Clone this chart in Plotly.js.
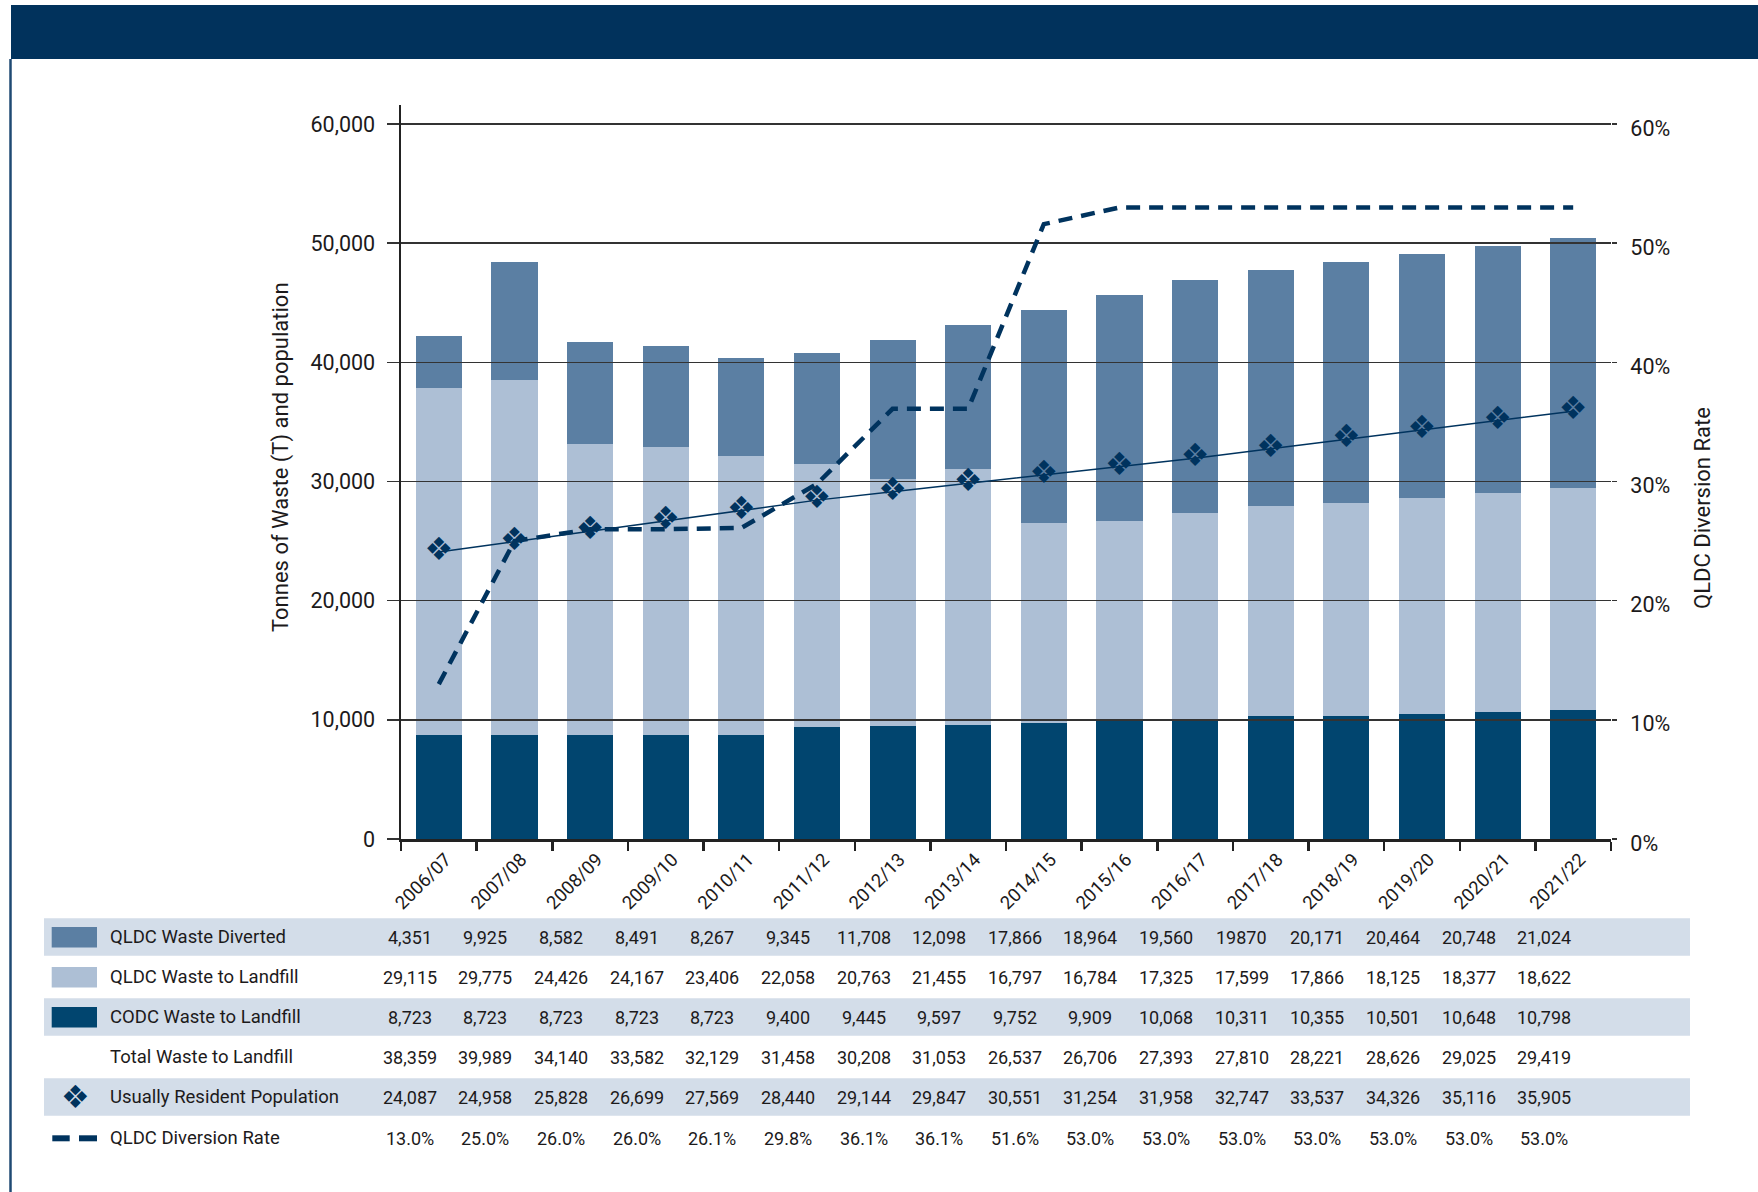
<!DOCTYPE html>
<html>
<head>
<meta charset="utf-8">
<script src="https://cdn.plot.ly/plotly-3.0.1.min.js"></script>
<style>
  html, body { margin: 0; padding: 0; background: #ffffff; }
  #chart { width: 1758px; height: 1192px; }
</style>
</head>
<body>
<div id="chart"></div>
<script>
// ---------------- DATA ----------------
const years = ['2006/07','2007/08','2008/09','2009/10','2010/11','2011/12','2012/13','2013/14',
               '2014/15','2015/16','2016/17','2017/18','2018/19','2019/20','2020/21','2021/22'];
const qldcDiverted = [4351, 9925, 8582, 8491, 8267, 9345, 11708, 12098, 17866, 18964, 19560, 19870, 20171, 20464, 20748, 21024];
const qldcLandfill = [29115, 29775, 24426, 24167, 23406, 22058, 20763, 21455, 16797, 16784, 17325, 17599, 17866, 18125, 18377, 18622];
const codcLandfill = [8723, 8723, 8723, 8723, 8723, 9400, 9445, 9597, 9752, 9909, 10068, 10311, 10355, 10501, 10648, 10798];
const totalLandfill = [38359, 39989, 34140, 33582, 32129, 31458, 30208, 31053, 26537, 26706, 27393, 27810, 28221, 28626, 29025, 29419];
const population = [24087, 24958, 25828, 26699, 27569, 28440, 29144, 29847, 30551, 31254, 31958, 32747, 33537, 34326, 35116, 35905];
const diversionRate = [13.0, 25.0, 26.0, 26.0, 26.1, 29.8, 36.1, 36.1, 51.6, 53.0, 53.0, 53.0, 53.0, 53.0, 53.0, 53.0];
const leftTicks = [0, 10000, 20000, 30000, 40000, 50000, 60000];
const rightTicks = [0, 10, 20, 30, 40, 50, 60];
const rowLabels = ['QLDC Waste Diverted','QLDC Waste to Landfill','CODC Waste to Landfill',
                   'Total Waste to Landfill','Usually Resident Population','QLDC Diversion Rate'];
const yLeftTitle = 'Tonnes of Waste (T) and population';
const yRightTitle = 'QLDC Diversion Rate';

// ---------------- STYLE ----------------
const W = 1758, H = 1192;
const M = { l: 401, r: 147, t: 105, b: 353 };
const PW = W - M.l - M.r, PH = H - M.t - M.b;
const px = X => (X - M.l) / PW;          // pixel -> paper x
const py = Y => (H - M.b - Y) / PH;      // pixel -> paper y

const FONT = 'Roboto, "Liberation Sans", sans-serif';
const TXT = '#1c1a1b';
const C_DIV = '#5b7fa3', C_LF = '#adbfd5', C_CODC = '#01456f', C_NAVY = '#00335e', C_BAND = '#d3dde9';
const GRID = '#333333';

const fmt = v => v.toLocaleString('en-US');
const pct = v => v.toFixed(1) + '%';

// table text rows built from the data
const divText = qldcDiverted.map(fmt);
divText[11] = String(qldcDiverted[11]);   // printed without separator in the source
const tableRows = [
  divText,
  qldcLandfill.map(fmt),
  codcLandfill.map(fmt),
  totalLandfill.map(fmt),
  population.map(fmt),
  diversionRate.map(pct)
];
const rowY = [937.3, 977.3, 1017.3, 1057.3, 1097.3, 1138.3];

// ---------------- TRACES ----------------
const barCommon = { type: 'bar', x: years, xaxis: 'x', yaxis: 'y', hoverinfo: 'skip' };
const traces = [
  Object.assign({}, barCommon, { y: codcLandfill, name: rowLabels[2], marker: { color: C_CODC } }),
  Object.assign({}, barCommon, { y: qldcLandfill, name: rowLabels[1], marker: { color: C_LF } }),
  Object.assign({}, barCommon, { y: qldcDiverted, name: rowLabels[0], marker: { color: C_DIV } }),
  {
    type: 'scatter', mode: 'lines', x: years, y: diversionRate, xaxis: 'x2', yaxis: 'y2',
    name: rowLabels[5], line: { color: C_NAVY, width: 4.5, dash: '14px,9px' }, hoverinfo: 'skip'
  },
  {
    type: 'scatter', mode: 'lines+text', x: years, y: population, xaxis: 'x2', yaxis: 'y3',
    name: rowLabels[4], line: { color: C_NAVY, width: 1.5 },
    text: years.map(() => '❖'), textposition: 'middle center',
    textfont: { family: 'DejaVu Sans', size: 32, color: C_NAVY }, hoverinfo: 'skip'
  }
];

// ---------------- SHAPES ----------------
const shapes = [];
// top banner
shapes.push({ type: 'rect', xref: 'paper', yref: 'paper', x0: px(11), x1: px(1758), y0: py(59), y1: py(5),
              fillcolor: '#01325c', line: { width: 0 }, layer: 'below' });
// left border
shapes.push({ type: 'line', xref: 'paper', yref: 'paper', x0: px(10.5), x1: px(10.5), y0: py(59), y1: py(1192),
              line: { color: '#1f4a73', width: 2.5 } });
// table bands
[[918.3, 955.7], [998.3, 1035.7], [1078.3, 1115.7]].forEach(b => {
  shapes.push({ type: 'rect', xref: 'paper', yref: 'paper', x0: px(44), x1: px(1690), y0: py(b[1]), y1: py(b[0]),
                fillcolor: C_BAND, line: { width: 0 }, layer: 'below' });
});
// legend swatches
[C_DIV, C_LF, C_CODC].forEach((c, i) => {
  shapes.push({ type: 'rect', xref: 'paper', yref: 'paper', x0: px(51.7), x1: px(97),
                y0: py(rowY[i] + 10.2), y1: py(rowY[i] - 10.2), fillcolor: c, line: { width: 0 } });
});
// dashed legend
[[52.3, 69.7], [79, 97]].forEach(d => {
  shapes.push({ type: 'rect', xref: 'paper', yref: 'paper', x0: px(d[0]), x1: px(d[1]),
                y0: py(rowY[5] + 3), y1: py(rowY[5] - 3), fillcolor: C_NAVY, line: { width: 0 } });
});

// ---------------- ANNOTATIONS ----------------
const annotations = [];
rowLabels.forEach((lab, r) => {
  annotations.push({ xref: 'paper', yref: 'paper', x: px(108), y: py(rowY[r]), xanchor: 'left', yanchor: 'middle',
                     text: lab, showarrow: false, font: { family: FONT, size: 18.5, color: TXT } });
  tableRows[r].forEach((t, i) => {
    annotations.push({ xref: 'x', yref: 'paper', x: years[i], xshift: -29, y: py(rowY[r]), xanchor: 'center',
                       yanchor: 'middle', text: t, showarrow: false, font: { family: FONT, size: 18, color: TXT } });
  });
});
// population legend symbol
annotations.push({ xref: 'paper', yref: 'paper', x: px(75.7), y: py(rowY[4]), xanchor: 'center', yanchor: 'middle',
                   text: '❖', showarrow: false, font: { family: 'DejaVu Sans', size: 32, color: C_NAVY } });
// axis titles
annotations.push({ xref: 'paper', yref: 'paper', x: px(281), y: py(457), xanchor: 'center', yanchor: 'middle',
                   textangle: -90, text: yLeftTitle, showarrow: false, font: { family: FONT, size: 22, color: TXT } });
annotations.push({ xref: 'paper', yref: 'paper', x: px(1702), y: py(508), xanchor: 'center', yanchor: 'middle',
                   textangle: -90, text: yRightTitle, showarrow: false, font: { family: FONT, size: 22, color: TXT } });

// ---------------- LAYOUT ----------------
const layout = {
  width: W, height: H,
  margin: M,
  paper_bgcolor: '#ffffff', plot_bgcolor: 'rgba(0,0,0,0)',
  showlegend: false,
  barmode: 'stack', bargap: 0.39,
  font: { family: FONT, color: TXT },
  xaxis: {
    type: 'category', domain: [0, 1], anchor: 'y', range: [-0.5, 15.5],
    showline: true, linecolor: '#222222', linewidth: 2.5,
    ticks: 'outside', tickson: 'boundaries', ticklen: 9, tickwidth: 2.5, tickcolor: '#222222',
    tickangle: -45, ticklabelshift: 7, tickfont: { family: FONT, size: 18.5, color: TXT },
    showgrid: false, zeroline: false, fixedrange: true
  },
  yaxis: {
    domain: [0, 1], anchor: 'x', range: [0, 61600], tickmode: 'array', tickvals: leftTicks,
    ticktext: leftTicks.map(fmt), showline: true, linecolor: '#222222', linewidth: 2.5,
    ticks: 'outside', ticklen: 12, tickwidth: 1.5, tickcolor: GRID, ticklabelstandoff: 7,
    tickfont: { family: FONT, size: 21.5, color: TXT }, showgrid: false, zeroline: false, fixedrange: true
  },
  xaxis2: {
    type: 'category', domain: [0, 1], anchor: 'y2', range: [-0.5, 15.5], visible: false, fixedrange: true
  },
  yaxis2: {
    domain: [0, 1], anchor: 'x2', side: 'right', range: [0, 61.6], tickmode: 'array', tickvals: rightTicks,
    ticktext: rightTicks.map(v => v + '%'), showline: false, ticks: 'outside', ticklen: 5, tickwidth: 1.5,
    tickcolor: GRID, ticklabelstandoff: 9, ticklabelshift: 4, tickfont: { family: FONT, size: 21.5, color: TXT },
    showgrid: true, gridcolor: GRID, gridwidth: 1.5, zeroline: false, fixedrange: true
  },
  yaxis3: {
    overlaying: 'y2', anchor: 'x2', range: [0, 61600], visible: false, fixedrange: true
  },
  shapes: shapes,
  annotations: annotations
};

Plotly.newPlot('chart', traces, layout, { staticPlot: true, displayModeBar: false });
</script>
</body>
</html>
